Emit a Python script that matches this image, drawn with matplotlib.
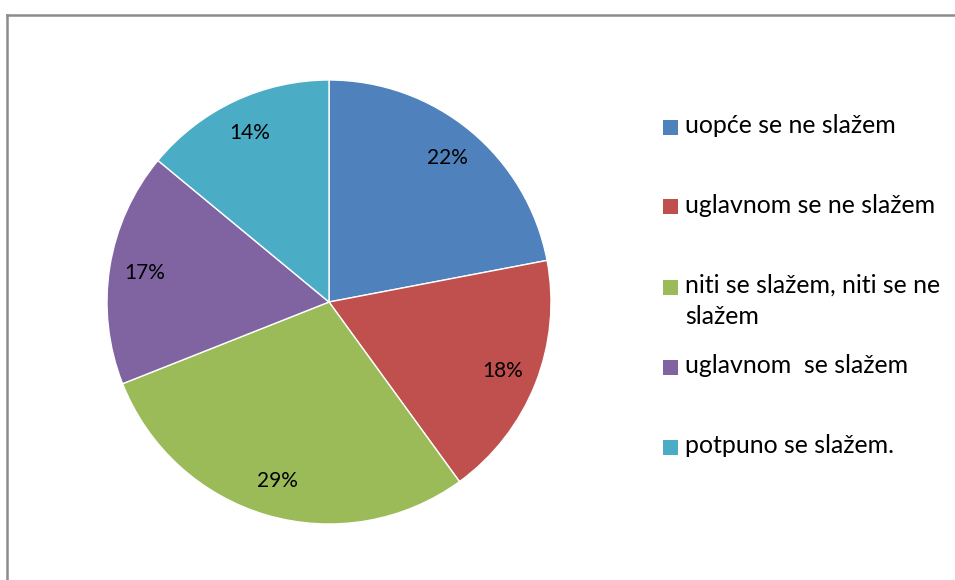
import matplotlib
matplotlib.use("Agg")
import matplotlib.pyplot as plt
from matplotlib.lines import Line2D
from matplotlib.patches import Rectangle

# Podaci
kategorije = ["uopće se ne slažem", "uglavnom se ne slažem",
              "niti se slažem, niti se ne\nslažem", "uglavnom  se slažem",
              "potpuno se slažem."]
postoci = [22, 18, 29, 17, 14]
boje = ["#4F81BD", "#C0504D", "#9BBB59", "#8064A2", "#4BACC6"]

plt.rcParams['font.family'] = ['Lato', 'DejaVu Sans']

W, H = 955, 580
fig = plt.figure(figsize=(W / 100, H / 100), dpi=100)

# okvir grafikona (samo lijevi i gornji rub su vidljivi)
fig.add_artist(Line2D([7 / W, 7 / W], [0, 1 - 15 / H], color="#8c8c8c", lw=1.8))
fig.add_artist(Line2D([7 / W, 1], [1 - 15 / H, 1 - 15 / H], color="#8c8c8c", lw=1.8))

# pita
cx, cy, r = 329, 302, 222
ax = fig.add_axes([(cx - r) / W, (H - cy - r) / H, 2 * r / W, 2 * r / H])
ax.pie(postoci, colors=boje, startangle=90, counterclock=False,
       autopct='%1.0f%%', pctdistance=0.84,
       wedgeprops=dict(edgecolor='white', linewidth=1.0),
       textprops=dict(fontsize=15, color='black'))
ax.set_xlim(-1, 1)
ax.set_ylim(-1, 1)
ax.set_aspect('equal')
ax.axis('off')

# legenda
leg_y = [127, 207, 287, 367, 447]
for boja, tekst, y in zip(boje, kategorije, leg_y):
    fig.add_artist(Rectangle((663 / W, 1 - (y + 7.5) / H), 15 / W, 15 / H,
                             facecolor=boja, edgecolor='none'))
    redovi = tekst.split("\n")
    for i, red in enumerate(redovi):
        fig.text(685 / W, 1 - (y + 6 + 31 * i) / H, red, fontsize=17.9,
                 va='baseline', ha='left', color='black')

fig.savefig("out.png", dpi=100)
